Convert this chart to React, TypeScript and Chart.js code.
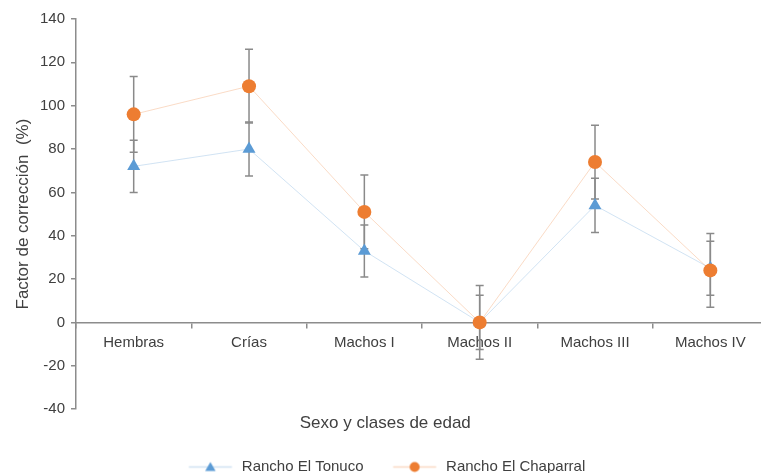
import React, { useEffect, useRef } from 'react';
import { Chart, registerables } from 'chart.js';

Chart.register(...registerables);

const categories = ['Hembras', 'Crías', 'Machos I', 'Machos II', 'Machos III', 'Machos IV'];
const tonucoValues = [72, 80, 33, 0, 54, 25];
const tonucoErrors = [12, 12.5, 12, 12.5, 12.5, 12.5];
const chaparralValues = [96, 109, 51, 0, 74, 24];
const chaparralErrors = [17.5, 17, 17, 17, 17, 17];
const yTicks = [-40, -20, 0, 20, 40, 60, 80, 100, 120, 140];
const seriesNames = ['Rancho El Tonuco', 'Rancho El Chaparral'];
const xTitle = 'Sexo y clases de edad';
const yTitle = 'Factor de corrección  (%)';

const FONT = "'Liberation Sans', Arial, sans-serif";
const TEXT = '#404040';
const AXIS = '#8c8c8c';
const ERR = '#8a8a8a';
const BLUE = '#5B9BD5';
const ORANGE = '#ED7D31';
const BLUE_LINE = 'rgba(91,155,213,0.28)';
const ORANGE_LINE = 'rgba(237,125,49,0.28)';

const CANVAS_W = 778;
const CANVAS_H = 473;

function legendIcon(kind: 'triangle' | 'circle', lineColor: string, color: string) {
  const w = 49;
  const h = 15;
  const lineStart = 3.6;
  const lineLen = 43;
  const c = document.createElement('canvas');
  c.width = w;
  c.height = h;
  const ctx = c.getContext('2d')!;
  ctx.strokeStyle = lineColor;
  ctx.lineWidth = 1.3;
  ctx.beginPath();
  ctx.moveTo(lineStart, h / 2);
  ctx.lineTo(lineStart + lineLen, h / 2);
  ctx.stroke();
  const cx = lineStart + lineLen / 2;
  const cy = h / 2;
  ctx.fillStyle = color;
  ctx.beginPath();
  if (kind === 'circle') {
    ctx.arc(cx, cy, 5, 0, Math.PI * 2);
  } else {
    const r = 6;
    for (let k = 0; k < 3; k++) {
      const a = -Math.PI / 2 + (k * 2 * Math.PI) / 3;
      const px = cx + Math.cos(a) * r;
      const py = cy + 1 + Math.sin(a) * r;
      if (k === 0) ctx.moveTo(px, py);
      else ctx.lineTo(px, py);
    }
    ctx.closePath();
  }
  ctx.fill();
  return c;
}

const errorBarPlugin = {
  id: 'errorBars',
  beforeDatasetsDraw(chart: any) {
    const { ctx } = chart;
    const x = chart.scales.x;
    const y = chart.scales.y;
    const sets: [number[], number[]][] = [
      [tonucoValues, tonucoErrors],
      [chaparralValues, chaparralErrors],
    ];
    ctx.save();
    ctx.strokeStyle = ERR;
    ctx.lineWidth = 1.5;
    sets.forEach(([vals, errs]) => {
      vals.forEach((v, i) => {
        const px = x.getPixelForValue(i);
        const top = y.getPixelForValue(v + errs[i]);
        const bot = y.getPixelForValue(v - errs[i]);
        ctx.beginPath();
        ctx.moveTo(px, top);
        ctx.lineTo(px, bot);
        ctx.moveTo(px - 4, top);
        ctx.lineTo(px + 4, top);
        ctx.moveTo(px - 4, bot);
        ctx.lineTo(px + 4, bot);
        ctx.stroke();
      });
    });
    ctx.restore();
  },
};

export default function App() {
  const ref = useRef<HTMLCanvasElement | null>(null);

  useEffect(() => {
    if (!ref.current) return;
    const icon1 = legendIcon('triangle', BLUE_LINE, BLUE);
    const icon2 = legendIcon('circle', ORANGE_LINE, ORANGE);
    const chart = new Chart(ref.current, {
      type: 'line',
      data: {
        labels: categories,
        datasets: [
          {
            label: seriesNames[0],
            data: tonucoValues,
            borderColor: BLUE_LINE,
            borderWidth: 1,
            backgroundColor: BLUE,
            pointStyle: 'triangle',
            pointRadius: 7.5,
            pointBackgroundColor: BLUE,
            pointBorderColor: BLUE,
            pointBorderWidth: 0,
            tension: 0,
            order: 2,
          },
          {
            label: seriesNames[1],
            data: chaparralValues,
            borderColor: ORANGE_LINE,
            borderWidth: 1,
            backgroundColor: ORANGE,
            pointStyle: 'circle',
            pointRadius: 7,
            pointBackgroundColor: ORANGE,
            pointBorderColor: ORANGE,
            pointBorderWidth: 0,
            tension: 0,
            order: 1,
          },
        ],
      },
      options: {
        animation: false,
        responsive: false,
        devicePixelRatio: 1,
        layout: { padding: { left: 2.6, right: 10, top: 19, bottom: -11.5 } },
        scales: {
          x: {
            type: 'category',
            position: { y: 0 } as any,
            offset: true,
            afterFit: (scale: any) => {
              scale.height = 0;
            },
            grid: {
              display: true,
              drawOnChartArea: false,
              drawTicks: true,
              tickLength: 5,
              offset: true,
              color: AXIS,
              lineWidth: 1.5,
            },
            border: { display: true, color: AXIS, width: 1.5 },
            ticks: {
              color: TEXT,
              font: { family: FONT, size: 15 },
              padding: 6,
              maxRotation: 0,
              autoSkip: false,
            },
          },
          y: {
            min: yTicks[0],
            max: yTicks[yTicks.length - 1],
            grid: {
              display: true,
              drawOnChartArea: false,
              drawTicks: true,
              tickLength: 5,
              color: AXIS,
              lineWidth: 1.5,
            },
            border: { display: true, color: AXIS, width: 1.5 },
            ticks: {
              stepSize: yTicks[1] - yTicks[0],
              color: TEXT,
              font: { family: FONT, size: 15 },
              padding: 6,
            },
            title: {
              display: true,
              text: yTitle,
              color: TEXT,
              font: { family: FONT, size: 17 },
              padding: { top: 11, bottom: 0 },
            },
          },
        },
        plugins: {
          tooltip: { enabled: false },
          title: {
            display: true,
            text: xTitle,
            position: 'bottom',
            weight: 500,
            color: TEXT,
            font: { family: FONT, size: 17, weight: 'normal' },
            padding: { top: 4, bottom: 0 },
          } as any,
          legend: {
            display: true,
            position: 'bottom',
            labels: {
              usePointStyle: true,
              pointStyleWidth: 49,
              padding: 26,
              color: TEXT,
              font: { family: FONT, size: 15 },
              generateLabels: () => [
                {
                  text: seriesNames[0],
                  pointStyle: icon1 as any,
                  fillStyle: 'transparent',
                  strokeStyle: 'transparent',
                  lineWidth: 0,
                  fontColor: TEXT,
                  hidden: false,
                  datasetIndex: 0,
                },
                {
                  text: seriesNames[1],
                  pointStyle: icon2 as any,
                  fillStyle: 'transparent',
                  strokeStyle: 'transparent',
                  lineWidth: 0,
                  fontColor: TEXT,
                  hidden: false,
                  datasetIndex: 1,
                },
              ],
            },
          },
        },
      },
      plugins: [errorBarPlugin],
    });
    return () => chart.destroy();
  }, []);

  return (
    <div
      style={{
        position: 'fixed',
        left: 0,
        top: 0,
        width: 761,
        height: 473,
        overflow: 'hidden',
        background: '#ffffff',
      }}
    >
      <canvas
        ref={ref}
        width={CANVAS_W}
        height={CANVAS_H}
        style={{ display: 'block', width: CANVAS_W, height: CANVAS_H }}
      />
    </div>
  );
}
